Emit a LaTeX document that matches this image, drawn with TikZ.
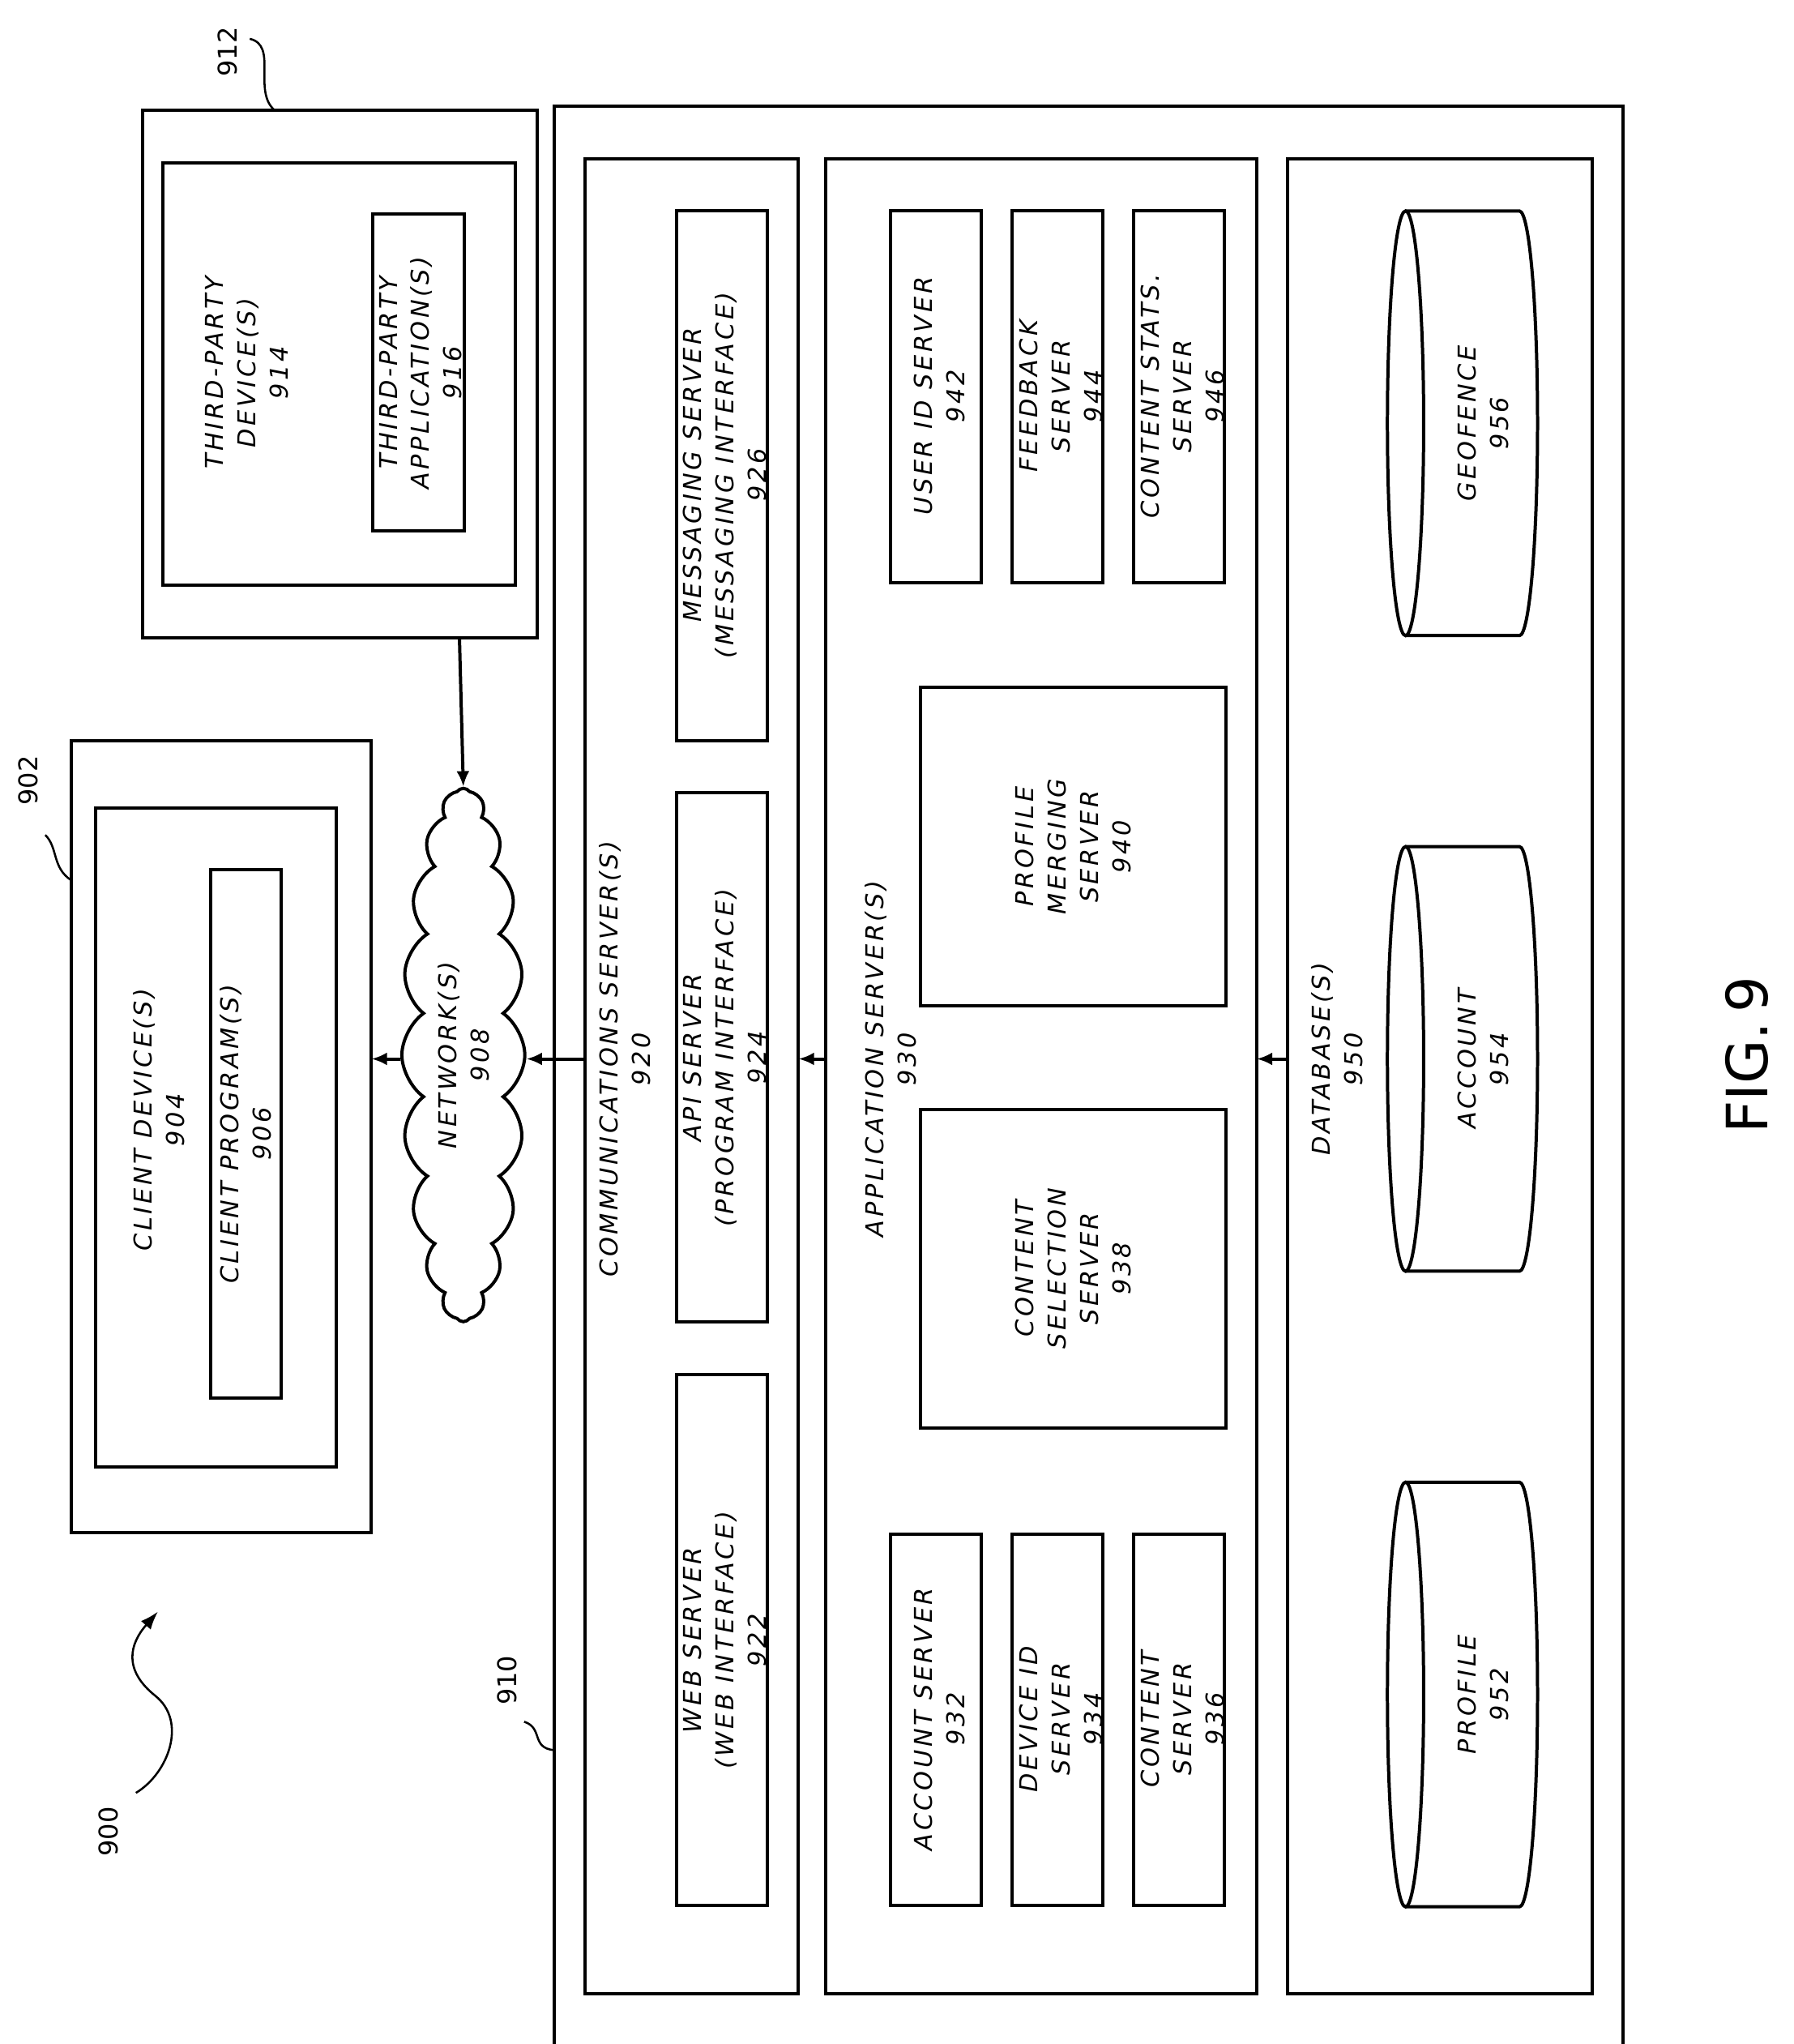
\documentclass[tikz,border=0pt]{standalone}
\usepackage{fontspec}
\setmainfont{DejaVu Sans}[LetterSpace=12]
\newfontfamily\plainfont{DejaVu Sans}
\usetikzlibrary{shapes.symbols,arrows.meta}

\tikzset{
  box/.style={draw, line width=2.5pt},
  lbl/.style={rotate=90, align=center, inner sep=0pt, font=\fontsize{19}{25}\selectfont\itshape},
  num/.style={rotate=90, font=\plainfont\fontsize{20}{22}\selectfont},
  conn/.style={line width=2.5pt, -{Latex[length=12pt,width=10pt]}},
  squig/.style={line width=1.6pt},
}

\begin{document}
\begin{tikzpicture}[x=1pt,y=1pt]
    \useasboundingbox (0,0) rectangle (1386,-1579);

    % outer boxes
    \draw[box] (428,-82) rectangle (1254,-1582);
    \draw[box] (452,-123) rectangle (617,-1540);
    \draw[box] (638,-123) rectangle (971,-1540);
    \draw[box] (995,-123) rectangle (1230,-1540);
    \node[lbl] (comm) at (483,-818) {COMMUNICATIONS SERVER(S)\\920};
    \node[lbl] (app) at (688,-818) {APPLICATION SERVER(S)\\930};
    \node[lbl] (db) at (1033,-818) {DATABASE(S)\\950};
    \coordinate (commL) at (452,-818);
    \coordinate (commR) at (617,-818);
    \coordinate (appL) at (638,-818);
    \coordinate (appR) at (971,-818);
    \coordinate (dbL) at (995,-818);

    % communications servers
    \draw[box] (523,-163) rectangle (593,-572);
    \node[lbl] (msg) at (560,-367) {MESSAGING SERVER\\(MESSAGING INTERFACE)\\926};
    \draw[box] (523,-612) rectangle (593,-1021);
    \node[lbl] (api) at (560,-817) {API SERVER\\(PROGRAM INTERFACE)\\924};
    \draw[box] (523,-1062) rectangle (593,-1472);
    \node[lbl] (web) at (560,-1267) {WEB SERVER\\(WEB INTERFACE)\\922};

    % application servers
    \foreach \x/\t in {688/{USER ID SERVER\\942}, 782/{FEEDBACK\\SERVER\\944}, 876/{CONTENT STATS.\\SERVER\\946}} {
      \draw[box] (\x,-163) rectangle (\x+70,-450);
      \node[lbl] at (\x+38,-306) {\t};
    }
    \foreach \x/\t in {688/{ACCOUNT SERVER\\932}, 782/{DEVICE ID\\SERVER\\934}, 876/{CONTENT\\SERVER\\936}} {
      \draw[box] (\x,-1185) rectangle (\x+70,-1472);
      \node[lbl] at (\x+38,-1328) {\t};
    }
    \draw[box] (711,-531) rectangle (947,-777);
    \node[lbl] (merge) at (829,-654) {PROFILE\\MERGING\\SERVER\\940};
    \draw[box] (711,-857) rectangle (947,-1103);
    \node[lbl] (select) at (829,-980) {CONTENT\\SELECTION\\SERVER\\938};

    % databases
    \foreach \y/\t in {163/{GEOFENCE\\956}, 654/{ACCOUNT\\954}, 1145/{PROFILE\\952}} {
      \draw[line width=2.5pt] (1086,-\y) -- (1174,-\y)
        arc[start angle=90, end angle=-90, x radius=14, y radius=164] -- (1086,-\y-328);
      \draw[line width=2.5pt] (1086,-\y-164) ellipse[x radius=14, y radius=164];
      \node[lbl] at (1146,-\y-164) {\t};
    }

    % network
    \node[draw, line width=2.5pt, cloud, cloud puffs=20, cloud puff arc=110, cloud ignores aspect,
          minimum width=95pt, minimum height=412pt] (net) at (358,-815) {};
    \node[lbl] (netl) at (358,-815) {NETWORK(S)\\908};

    % client device
    \draw[box] (55,-572) rectangle (287,-1184);
    \draw[box] (74,-624) rectangle (260,-1133);
    \draw[box] (163,-672) rectangle (217,-1080);
    \node[lbl] (cdev) at (123,-865) {CLIENT DEVICE(S)\\904};
    \node[lbl] (cprog) at (190,-876) {CLIENT PROGRAM(S)\\906};
    \coordinate (clientR) at (287,-818);

    % third party
    \draw[box] (110,-85) rectangle (415,-493);
    \draw[box] (126,-126) rectangle (398,-452);
    \draw[box] (288,-165) rectangle (359,-410);
    \node[lbl] (tdev) at (191,-288) {THIRD-PARTY\\DEVICE(S)\\914};
    \node[lbl] (tapp) at (325,-288) {THIRD-PARTY\\APPLICATION(S)\\916};
    \coordinate (tpB) at (355,-493);

    % connectors
    \draw[conn] (tpB) -- (net.north);
    \draw[conn] (commL) -- (net.east |- commL);
    \draw[conn] (appL) -- (commR);
    \draw[conn] (dbL) -- (appR);
    \draw[conn] (net.west |- clientR) -- (clientR);

    % reference numerals
    \node[num] (n912) at (176,-40) {912};
    \draw[squig] (193,-30) .. controls (215,-35) and (195,-70) .. (212,-85);
    \node[num] (n902) at (22,-603) {902};
    \draw[squig] (35,-645) .. controls (45,-655) and (40,-670) .. (55,-680);
    \node[num] (n910) at (392,-1298) {910};
    \draw[squig] (405,-1330) .. controls (420,-1335) and (410,-1350) .. (428,-1352);
    \node[num] (n900) at (84,-1415) {900};
    \draw[squig, -{Latex[length=14pt,width=10pt]}] (105,-1385) .. controls (130,-1370) and (145,-1330) .. (120,-1310)
       .. controls (95,-1290) and (100,-1270) .. (122,-1245);

    \node[rotate=90, font=\plainfont\fontsize{44}{50}\selectfont] (fig) at (1350,-815) {FIG.\,9};
\end{tikzpicture}
\end{document}
